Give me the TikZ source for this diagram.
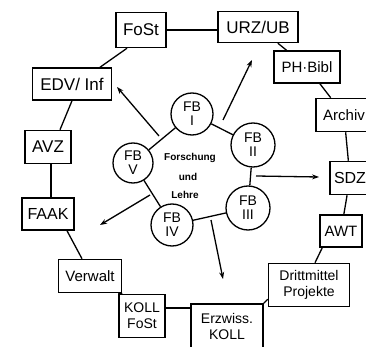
\documentclass[tikz,border=0pt]{standalone}
\usepackage{fontspec}
\setmainfont{Liberation Sans}
\usetikzlibrary{arrows.meta,calc}
\begin{document}
\begin{tikzpicture}[x=1pt,y=-1pt,line width=1.3pt,
  box/.style={draw,line width=1.5pt,inner sep=1pt,align=center},
  fb/.style={draw,circle,line width=1.3pt,minimum size=#1,inner sep=0pt,align=center,font=\fontsize{14}{14}\selectfont},
  fb/.default=43pt,
  link/.style={line width=1.3pt},
  arr/.style={line width=1.3pt,-{Stealth[length=7pt,width=5pt]}},
  ctext/.style={font=\fontsize{10}{11}\selectfont\bfseries}]
\fill[white] (0,0) rectangle (366,347);
\useasboundingbox (0,0) rectangle (366,347);
\clip (0,0) rectangle (366,347);
% ring of boxes
\node[box,minimum width=50pt,minimum height=35pt,font=\fontsize{17}{18}\selectfont] (fost) at (141,30) {FoSt};
\node[box,minimum width=80pt,minimum height=31pt,font=\fontsize{17}{18}\selectfont] (urz) at (258,27) {URZ/UB};
\node[box,minimum width=66pt,minimum height=32pt,font=\fontsize{15}{16}\selectfont] (ph) at (307,67) {PH·Bibl};
\node[box,minimum width=56pt,minimum height=33pt,font=\fontsize{15}{16}\selectfont] (archiv) at (344,115) {Archiv};
\node[box,minimum width=40pt,minimum height=33pt,font=\fontsize{16}{17}\selectfont] (sdz) at (350,178) {SDZ};
\node[box,minimum width=42pt,minimum height=32pt,font=\fontsize{15}{16}\selectfont] (awt) at (341,231) {AWT};
\node[box,minimum width=81pt,minimum height=43pt,font=\fontsize{14}{16}\selectfont] (dritt) at (309,285) {Drittmittel\\Projekte};
\node[box,minimum width=72pt,minimum height=44pt,font=\fontsize{14}{16}\selectfont] (erz) at (227,326) {Erzwiss.\\KOLL};
\node[box,minimum width=46pt,minimum height=43pt,font=\fontsize{14}{16}\selectfont] (kollfost) at (142,316) {KOLL\\FoSt};
\node[box,minimum width=63pt,minimum height=33pt,font=\fontsize{15}{16}\selectfont] (verwalt) at (90,276) {Verwalt};
\node[box,minimum width=52pt,minimum height=32pt,font=\fontsize{16}{17}\selectfont] (faak) at (48,214) {FAAK};
\node[box,minimum width=46pt,minimum height=33pt,font=\fontsize{17}{18}\selectfont] (avz) at (48,147) {AVZ};
\node[box,minimum width=79pt,minimum height=32pt,font=\fontsize{17}{18}\selectfont] (edv) at (72,84) {EDV/ Inf};
% ring links
\draw[link] (fost.east) -- (fost.east -| urz.west);
\draw[link] (urz) -- (ph);
\draw[link] (ph) -- (archiv);
\draw[link] (archiv) -- (sdz);
\draw[link] (sdz) -- (awt);
\draw[link] ([xshift=3pt]awt.south west) -- ([xshift=6pt]dritt.north);
\draw[link] ([yshift=8pt]dritt.south west) -- (erz.north east);
\draw[link] ([yshift=8pt]kollfost.east) -- ([yshift=8pt]kollfost.east -| erz.west);
\draw[link] (verwalt.south east) -- (kollfost.north west);
\draw[link] ([xshift=19pt]faak.south) -- ([xshift=-8pt]verwalt.north);
\draw[link] ([xshift=3pt]avz.south) -- ([xshift=3pt]faak.north);
\draw[link] (edv.south) -- ([xshift=12pt]avz.north);
\draw[link] ([xshift=28pt]edv.north) -- ([xshift=-14pt]fost.south);
% inner circles
\node[fb=42pt] (fb1) at (192,114) {FB\\I};
\node[fb=44pt] (fb2) at (253,145) {FB\\II};
\node[fb=44pt] (fb3) at (248,208) {FB\\III};
\node[fb=42pt] (fb4) at (172,225) {FB\\IV};
\node[fb=40pt] (fb5) at (133,163) {FB\\V};
\draw[link] (fb1) -- (fb2);
\draw[link] (fb2) -- (fb3);
\draw[link] (fb3) -- (fb4);
\draw[link] (fb4) -- (fb5);
\draw[link] (fb5) -- (fb1);
% centre text
\node[ctext] (t1) at (190,158) {Forschung};
\node[ctext] (t2) at (188,177) {und};
\node[ctext] (t3) at (185,195) {Lehre};
% arrows
\coordinate (s1) at (159,136); \coordinate (e1) at (117,87);
\coordinate (s2) at (223,120); \coordinate (e2) at (252,60);
\coordinate (s3) at (256,176); \coordinate (e3) at (319,177);
\coordinate (s4) at (211,220); \coordinate (e4) at (223,279);
\coordinate (s5) at (150,195); \coordinate (e5) at (100,225);
\draw[arr] (s1) -- (e1);
\draw[arr] (s2) -- (e2);
\draw[arr] (s3) -- (e3);
\draw[arr] (s4) -- (e4);
\draw[arr] (s5) -- (e5);
\end{tikzpicture}
\end{document}
